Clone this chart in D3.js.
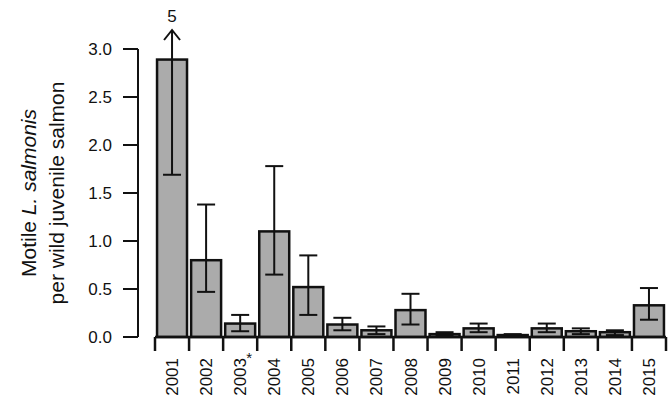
<!DOCTYPE html>
<meta charset="utf-8">
<title>Motile L. salmonis</title>
<style>
  body { margin: 0; background: #fff; }
  text { font-family: "Liberation Sans", Arial, sans-serif; fill: #111; }
</style>
<div id="viz"></div>
<script src="https://cdnjs.cloudflare.com/ajax/libs/d3/7.8.5/d3.min.js"></script>
<script>
var years = ["2001","2002","2003","2004","2005","2006","2007","2008","2009","2010","2011","2012","2013","2014","2015"];
var means = [2.89, 0.80, 0.14, 1.10, 0.52, 0.13, 0.07, 0.28, 0.03, 0.09, 0.02, 0.09, 0.06, 0.05, 0.33];
var lower = [1.69, 0.47, 0.06, 0.65, 0.23, 0.07, 0.03, 0.13, 0.02, 0.05, 0.01, 0.05, 0.03, 0.02, 0.18];
var upper = [5, 1.38, 0.23, 1.78, 0.85, 0.20, 0.11, 0.45, 0.05, 0.14, 0.03, 0.14, 0.09, 0.07, 0.51];
var yTicks = [0, 0.5, 1.0, 1.5, 2.0, 2.5, 3.0];

var width = 670, height = 401;
var svg = d3.select("#viz").append("svg").attr("width", width).attr("height", height);

var x = d3.scaleBand().domain(years).range([155, 666]).paddingInner(0.12).paddingOuter(0.06);
var y = d3.scaleLinear().domain([0, 3]).range([337, 49]);
var step = 511 / years.length;

// bars
svg.selectAll("rect.bar").data(years).enter().append("rect")
  .attr("x", function(d) { return x(d); })
  .attr("y", function(d, i) { return y(means[i]); })
  .attr("width", x.bandwidth())
  .attr("height", function(d, i) { return y(0) - y(means[i]); })
  .attr("fill", "#ababab").attr("stroke", "#111").attr("stroke-width", 2.5);

// error bars
var cap = 9;
years.forEach(function(d, i) {
  var cx = x(d) + x.bandwidth() / 2;
  var yt = upper[i] > 3 ? 30 : y(upper[i]);
  svg.append("line").attr("x1", cx).attr("x2", cx).attr("y1", y(lower[i])).attr("y2", yt)
    .attr("stroke", "#111").attr("stroke-width", 2);
  svg.append("line").attr("x1", cx - cap).attr("x2", cx + cap).attr("y1", y(lower[i])).attr("y2", y(lower[i]))
    .attr("stroke", "#111").attr("stroke-width", 2);
  if (upper[i] > 3) {
    svg.append("path").attr("d", "M" + (cx - 8) + "," + (yt + 10) + "L" + cx + "," + yt + "L" + (cx + 8) + "," + (yt + 10))
      .attr("fill", "none").attr("stroke", "#111").attr("stroke-width", 2);
    svg.append("text").attr("x", cx).attr("y", 22).attr("text-anchor", "middle")
      .attr("font-size", 17).text(upper[i]);
  } else {
    svg.append("line").attr("x1", cx - cap).attr("x2", cx + cap).attr("y1", yt).attr("y2", yt)
      .attr("stroke", "#111").attr("stroke-width", 2);
  }
});

// y axis
svg.append("line").attr("x1", 138).attr("x2", 138).attr("y1", y(3)).attr("y2", y(0))
  .attr("stroke", "#111").attr("stroke-width", 2);
svg.selectAll("line.yt").data(yTicks).enter().append("line")
  .attr("x1", 123).attr("x2", 138).attr("y1", function(d) { return y(d); }).attr("y2", function(d) { return y(d); })
  .attr("stroke", "#111").attr("stroke-width", 2);
svg.selectAll("text.yt").data(yTicks).enter().append("text")
  .attr("x", 112).attr("y", function(d) { return y(d) + 6; }).attr("text-anchor", "end")
  .attr("font-size", 17).text(function(d) { return d.toFixed(1); });

// x axis
svg.append("line").attr("x1", 155).attr("x2", 666).attr("y1", 337).attr("y2", 337)
  .attr("stroke", "#111").attr("stroke-width", 2.5);
d3.range(years.length + 1).forEach(function(k) {
  var tx = 155 + k * step;
  svg.append("line").attr("x1", tx).attr("x2", tx).attr("y1", 337).attr("y2", 351)
    .attr("stroke", "#111").attr("stroke-width", 2.5);
});
svg.selectAll("text.xl").data(years).enter().append("text")
  .attr("transform", function(d) { return "translate(" + (x(d) + x.bandwidth() / 2 + 6) + ",358) rotate(-90)"; })
  .attr("text-anchor", "end").attr("font-size", 17).text(function(d) { return d; });
svg.append("text").attr("x", x("2003") + x.bandwidth() / 2 + 6).attr("y", 363)
  .attr("font-size", 15).text("*");

// y label
var yl = svg.append("text").attr("transform", "translate(36,193) rotate(-90)")
  .attr("text-anchor", "middle").attr("font-size", 21);
yl.append("tspan").text("Motile ");
yl.append("tspan").attr("font-style", "italic").text("L. salmonis");
svg.append("text").attr("transform", "translate(64,193) rotate(-90)")
  .attr("text-anchor", "middle").attr("font-size", 21).text("per wild juvenile salmon");
</script>
